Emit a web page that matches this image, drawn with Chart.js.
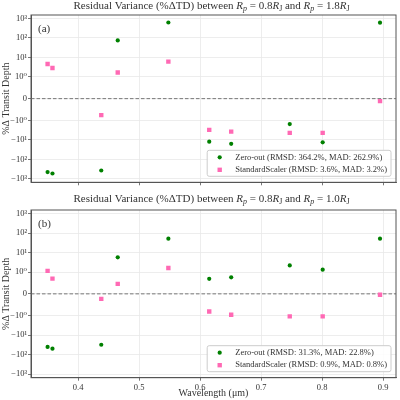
<!DOCTYPE html>
<html>
<head>
<meta charset="utf-8">
<script src="https://cdn.jsdelivr.net/npm/chart.js@4.4.1/dist/chart.umd.min.js"></script>
<style>
  html, body { margin: 0; padding: 0; background: #fff; }
  #wrap { position: relative; width: 400px; height: 400px; overflow: hidden; }
  canvas { position: absolute; left: 0; }
</style>
</head>
<body>
<div id="wrap">
  <canvas id="top" width="400" height="190" style="top:0;width:400px;height:190px"></canvas>
  <canvas id="bottom" width="400" height="210" style="top:190px;width:400px;height:210px"></canvas>
</div>
<script>
// wavelengths (micron)
const wavelengths = [0.35, 0.358, 0.438, 0.465, 0.548, 0.615, 0.651, 0.747, 0.801, 0.895];

// panel (a): Rp = 0.8 RJ vs 1.8 RJ
const zeroOutA = [-450, -530, -373, 75, 620, -12.4, -16, -1.55, -13.4, 605];
const scalerA  = [4.6, 2.9, -0.76, 1.7, 6.1, -3.1, -3.8, -4.4, -4.4, -0.115];

// panel (b): Rp = 0.8 RJ vs 1.0 RJ
const zeroOutB = [-40, -49, -31, 5.7, 51, 0.69, 0.76, 2.2, 1.34, 51];
const scalerB  = [1.15, 0.70, -0.23, 0.46, 1.63, -0.81, -0.96, -1.1, -1.1, -0.04];

const labelsA = ['Zero-out (RMSD: 364.2%, MAD: 262.9%)', 'StandardScaler (RMSD: 3.6%, MAD: 3.2%)'];
const labelsB = ['Zero-out (RMSD: 31.3%, MAD: 22.8%)', 'StandardScaler (RMSD: 0.9%, MAD: 0.8%)'];

const xTicks = [0.4, 0.5, 0.6, 0.7, 0.8, 0.9];
const yTicks = [-1000, -100, -10, -1, 0, 1, 10, 100, 1000];
const yTickLabels = ['\u221210\u00b3', '\u221210\u00b2', '\u221210\u00b9', '\u221210\u2070', '0',
                     '10\u2070', '10\u00b9', '10\u00b2', '10\u00b3'];
const xRange = [0.3228, 0.9212];
const yRange = [-1500, 1500];

const SERIF = "'Liberation Serif', 'DejaVu Serif', serif";
const INK = '#333';
const FRAME = '#555';

// symlog transform, linthresh 1, linscale 1 (matplotlib style)
const LSA = 1 / (1 - 1 / 10);
function fwd(v) {
    const a = Math.abs(v);
    return a <= 1 ? v * LSA : Math.sign(v) * (LSA + Math.log10(a));
}
function inv(t) {
    const a = Math.abs(t);
    return a <= LSA ? t / LSA : Math.sign(t) * Math.pow(10, a - LSA);
}

class SymLogScale extends Chart.Scale {
    static id = 'symlog';
    static defaults = {};

    determineDataLimits() {
        const { min, max } = this.getMinMax(true);
        this.min = min;
        this.max = max;
    }
    buildTicks() {
        return yTicks.map(v => ({ value: v }));
    }
    getLabelForValue(v) {
        return String(v);
    }
    configure() {
        super.configure();
        this._tMin = fwd(this.min);
        this._tMax = fwd(this.max);
    }
    getPixelForValue(v) {
        return this.getPixelForDecimal((fwd(v) - this._tMin) / (this._tMax - this._tMin));
    }
    getValueForPixel(p) {
        return inv(this._tMin + this.getDecimalForPixel(p) * (this._tMax - this._tMin));
    }
}
Chart.register(SymLogScale);

// title made of pieces so that R_p and R_J get their subscripts
function titleParts(a, b) {
    return [
        { t: 'Residual Variance (%\u0394TD) between ' },
        { t: 'R', i: true }, { t: 'p', i: true, sub: true },
        { t: ' = ' + a },
        { t: 'R', i: true }, { t: 'J', sub: true },
        { t: ' and ' },
        { t: 'R', i: true }, { t: 'p', i: true, sub: true },
        { t: ' = ' + b },
        { t: 'R', i: true }, { t: 'J', sub: true }
    ];
}

const decor = {
    id: 'decor',
    beforeDatasetsDraw(chart, args, opts) {
        const ctx = chart.ctx, area = chart.chartArea;
        const y0 = chart.scales.y.getPixelForValue(0);
        ctx.save();
        ctx.strokeStyle = '#777';
        ctx.lineWidth = 1;
        ctx.setLineDash([3.5, 2]);
        ctx.beginPath();
        ctx.moveTo(area.left, y0);
        ctx.lineTo(area.right, y0);
        ctx.stroke();
        ctx.setLineDash([]);
        ctx.strokeStyle = FRAME;
        ctx.strokeRect(area.left, area.top, area.width, area.height);
        ctx.restore();
    },
    afterDatasetsDraw(chart, args, opts) {
        const ctx = chart.ctx, area = chart.chartArea;
        ctx.save();

        // panel letter
        ctx.fillStyle = INK;
        ctx.font = '11px ' + SERIF;
        ctx.textBaseline = 'middle';
        ctx.textAlign = 'left';
        ctx.fillText(opts.panel, area.left + 7, area.top + 14);

        // title
        const size = 11;
        const widths = opts.title.map(p => {
            ctx.font = (p.i ? 'italic ' : '') + (p.sub ? size * 0.72 : size) + 'px ' + SERIF;
            return ctx.measureText(p.t).width;
        });
        let x = (area.left + area.right) / 2 - 2 - widths.reduce((s, w) => s + w, 0) / 2;
        opts.title.forEach((p, k) => {
            ctx.font = (p.i ? 'italic ' : '') + (p.sub ? size * 0.72 : size) + 'px ' + SERIF;
            ctx.fillText(p.t, x, opts.titleY + (p.sub ? 2.5 : 0));
            x += widths[k];
        });

        // legend, lower right inside the axes
        const sets = chart.data.datasets;
        ctx.font = '8.5px ' + SERIF;
        const tw = Math.max(...sets.map(d => ctx.measureText(d.label).width));
        const w = 28 + tw + 4, h = 26;
        const bx = area.right - 5 - w, by = area.bottom - 6 - h;
        ctx.beginPath();
        ctx.roundRect(bx, by, w, h, 2);
        ctx.fillStyle = 'rgba(255,255,255,0.85)';
        ctx.fill();
        ctx.strokeStyle = '#ccc';
        ctx.lineWidth = 1;
        ctx.stroke();
        sets.forEach((d, k) => {
            const cy = by + 7 + k * 12.5;
            ctx.fillStyle = d.backgroundColor;
            ctx.beginPath();
            if (d.pointStyle === 'rect') {
                const s = d.pointRadius * Math.SQRT1_2;
                ctx.rect(bx + 12.5 - s, cy - s, 2 * s, 2 * s);
            } else {
                ctx.arc(bx + 12.5, cy, d.pointRadius, 0, Math.PI * 2);
            }
            ctx.fill();
            ctx.fillStyle = INK;
            ctx.fillText(d.label, bx + 28, cy);
        });
        ctx.restore();
    }
};

function makeChart(id, zero, scaler, labels, o) {
    const pts = ys => wavelengths.map((x, k) => ({ x: x, y: ys[k] }));
    return new Chart(document.getElementById(id), {
        type: 'scatter',
        data: {
            datasets: [{
                label: labels[0],
                data: pts(zero),
                pointStyle: 'circle',
                pointRadius: 2.1,
                backgroundColor: '#008000',
                borderColor: '#008000',
                pointBorderWidth: 0
            }, {
                label: labels[1],
                data: pts(scaler),
                pointStyle: 'rect',
                pointRadius: 3.1,
                backgroundColor: '#ff69b4',
                borderColor: '#ff69b4',
                pointBorderWidth: 0
            }]
        },
        options: {
            responsive: false,
            animation: false,
            layout: { padding: { top: o.padTop, right: 2, left: 0, bottom: 0 } },
            plugins: {
                legend: { display: false },
                tooltip: { enabled: false },
                decor: { panel: o.panel, title: o.title, titleY: o.titleY }
            },
            scales: {
                x: {
                    type: 'linear',
                    min: xRange[0],
                    max: xRange[1],
                    afterBuildTicks: s => { s.ticks = xTicks.map(v => ({ value: v })); },
                    afterFit: s => { s.height = o.xHeight; },
                    ticks: {
                        display: o.showX,
                        padding: 2,
                        color: INK,
                        font: { family: SERIF, size: 8.5 },
                        callback: v => v.toFixed(1)
                    },
                    grid: { color: '#e8e8e8', lineWidth: 0.8, tickColor: FRAME, tickLength: 3 },
                    border: { color: FRAME, width: 1 },
                    title: {
                        display: o.showX,
                        text: 'Wavelength (\u03bcm)',
                        color: INK,
                        font: { family: SERIF, size: 10 },
                        padding: { top: 0, bottom: 1 }
                    }
                },
                y: {
                    type: 'symlog',
                    min: yRange[0],
                    max: yRange[1],
                    afterFit: s => { s.width = 31; },
                    ticks: {
                        autoSkip: false,
                        padding: 1,
                        color: INK,
                        font: { family: SERIF, size: 8.5 },
                        callback: (v, k) => yTickLabels[yTicks.indexOf(v)]
                    },
                    grid: { color: '#e8e8e8', lineWidth: 0.8, tickColor: FRAME, tickLength: 3 },
                    border: { color: FRAME, width: 1 },
                    title: {
                        display: true,
                        text: '%\u0394 Transit Depth',
                        color: INK,
                        font: { family: SERIF, size: 10 },
                        padding: 0
                    }
                }
            }
        },
        plugins: [decor]
    });
}

makeChart('top', zeroOutA, scalerA, labelsA, {
    panel: '(a)', title: titleParts('0.8', '1.8'), titleY: 6,
    padTop: 15, xHeight: 7.7, showX: false
});
makeChart('bottom', zeroOutB, scalerB, labelsB, {
    panel: '(b)', title: titleParts('0.8', '1.0'), titleY: 9.5,
    padTop: 20, xHeight: 22.3, showX: true
});
</script>
</body>
</html>
